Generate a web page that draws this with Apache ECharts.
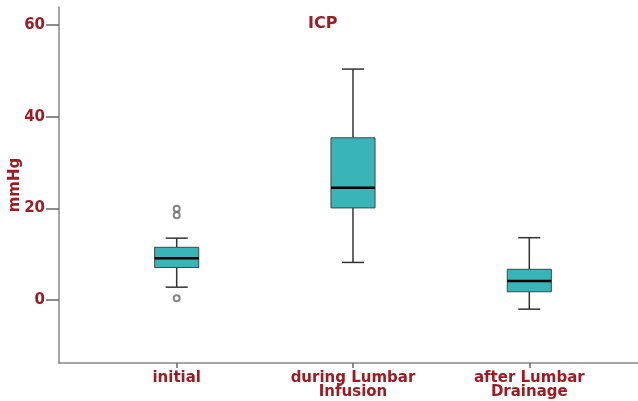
<!DOCTYPE html>
<html>
<head>
<meta charset="utf-8">
<script src="https://cdn.jsdelivr.net/npm/echarts@6/dist/echarts.min.js"></script>
<style>
  html, body { margin: 0; padding: 0; background: #fff; }
  #chart { width: 638px; height: 401px; }
</style>
</head>
<body>
<div id="chart"></div>
<script>
// Groups along the x axis
const categories = ['initial', 'during Lumbar\nInfusion', 'after Lumbar\nDrainage'];

// Five-number summaries per group (mmHg)
const lowWhisker  = [2.8, 8.2, -2.0];
const q1          = [7.1, 20.1, 1.8];
const median      = [9.1, 24.5, 4.15];
const q3          = [11.5, 35.4, 6.7];
const highWhisker = [13.5, 50.4, 13.6];

// Outliers as [group index, value]
const outliers = [[0, 19.9], [0, 18.5], [0, 0.4]];

// Y axis tick values
const yTicks = [0, 20, 40, 60];

const labelColor = '#9e1b22';
const fontFamily = '"DejaVu Sans", "Liberation Sans", sans-serif';

const boxData = categories.map((c, i) => [i, lowWhisker[i], q1[i], median[i], q3[i], highWhisker[i]]);

const BOX_W = 0.25;   // box width in x-axis units
const CAP_W = 0.125;  // whisker cap width in x-axis units

function renderBox(params, api) {
  const x = api.value(0);
  const pLo = api.coord([x, api.value(1)]);
  const pQ1 = api.coord([x, api.value(2)]);
  const pMed = api.coord([x, api.value(3)]);
  const pQ3 = api.coord([x, api.value(4)]);
  const pHi = api.coord([x, api.value(5)]);
  const halfBox = api.size([BOX_W, 0])[0] / 2;
  const halfCap = api.size([CAP_W, 0])[0] / 2;
  const cx = pMed[0];
  const whisker = { stroke: '#333', lineWidth: 1.5 };
  return {
    type: 'group',
    children: [
      { type: 'line', shape: { x1: cx, y1: pLo[1], x2: cx, y2: pQ1[1] }, style: whisker },
      { type: 'line', shape: { x1: cx, y1: pQ3[1], x2: cx, y2: pHi[1] }, style: whisker },
      { type: 'line', shape: { x1: cx - halfCap, y1: pLo[1], x2: cx + halfCap, y2: pLo[1] }, style: whisker },
      { type: 'line', shape: { x1: cx - halfCap, y1: pHi[1], x2: cx + halfCap, y2: pHi[1] }, style: whisker },
      {
        type: 'rect',
        shape: { x: cx - halfBox, y: pQ3[1], width: halfBox * 2, height: pQ1[1] - pQ3[1] },
        style: { fill: '#3ab5b7', stroke: '#444', lineWidth: 1 }
      },
      { type: 'line', shape: { x1: cx - halfBox, y1: pMed[1], x2: cx + halfBox, y2: pMed[1] }, style: { stroke: '#000', lineWidth: 2.5 } }
    ]
  };
}

const chart = echarts.init(document.getElementById('chart'), null, { renderer: 'canvas' });
chart.setOption({
  animation: false,
  backgroundColor: '#fff',
  title: {
    text: 'ICP',
    left: 308,
    top: 16,
    padding: 0,
    textStyle: { color: labelColor, fontFamily, fontWeight: 'bold', fontSize: 16 }
  },
  grid: { left: 59, right: 0, top: 7, bottom: 38, containLabel: false, outerBoundsMode: 'none' },
  xAxis: {
    type: 'value',
    min: -0.6676,
    max: 2.6166,
    splitLine: { show: false },
    axisLine: { show: true, onZero: false, lineStyle: { color: '#888', width: 1.5 } },
    axisTick: { show: true, length: 5, customValues: [0, 1, 2], lineStyle: { color: '#666', width: 1.5 } },
    axisLabel: {
      customValues: [0, 1, 2],
      formatter: v => categories[Math.round(v)],
      color: labelColor,
      fontFamily,
      fontWeight: 'bold',
      fontSize: 15,
      lineHeight: 14,
      margin: 8,
      align: 'center'
    }
  },
  yAxis: {
    type: 'value',
    min: -13.75,
    max: 63.95,
    name: 'mmHg',
    nameLocation: 'middle',
    nameGap: 36,
    nameMoveOverlap: false,
    nameTextStyle: { color: labelColor, fontFamily, fontWeight: 'bold', fontSize: 15 },
    splitLine: { show: false },
    axisLine: { show: true, onZero: false, lineStyle: { color: '#888', width: 1.5 } },
    axisTick: { show: true, length: 13, customValues: yTicks, lineStyle: { color: '#666', width: 1.5 } },
    axisLabel: {
      customValues: yTicks,
      color: labelColor,
      fontFamily,
      fontWeight: 'bold',
      fontSize: 15,
      margin: 14
    }
  },
  series: [
    {
      type: 'custom',
      renderItem: renderBox,
      encode: { x: 0, y: [1, 2, 3, 4, 5] },
      data: boxData,
      z: 2
    },
    {
      type: 'scatter',
      data: outliers,
      symbol: 'emptyCircle',
      symbolSize: 6,
      itemStyle: { color: '#666', borderWidth: 1.2 },
      z: 3
    }
  ]
});
</script>
</body>
</html>
